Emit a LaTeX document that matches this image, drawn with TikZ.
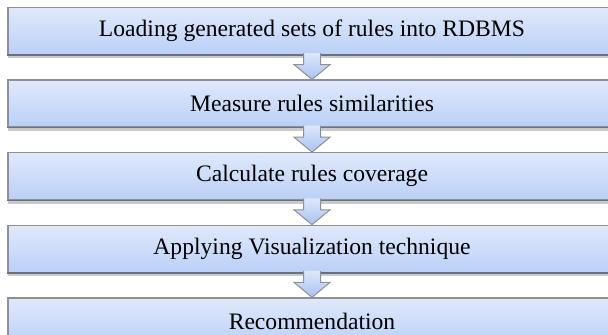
\documentclass[tikz,border=0pt]{standalone}
\usepackage{fontspec}
\setmainfont{Liberation Serif}
\usetikzlibrary{positioning,calc,shadows}
\definecolor{boxtop}{HTML}{E0E9FB}
\definecolor{boxbot}{HTML}{BAD0F8}
\definecolor{boxline}{HTML}{8F9093}
\definecolor{boxedge}{HTML}{6B717C}
\definecolor{arrtop}{HTML}{DDE7FB}
\definecolor{arrbot}{HTML}{A8C3F3}
\tikzset{stage/.style={rectangle,draw=boxline,line width=.6pt,top color=boxtop,bottom color=boxbot,minimum width=304pt,minimum height=23.5pt,inner sep=0pt,font=\fontsize{11.8}{14}\selectfont,drop shadow={shadow xshift=0pt,shadow yshift=-2pt,opacity=.35,fill=black!60}},
blockarr/.style={draw=boxline,line width=.5pt,top color=arrtop,bottom color=arrbot}}

\begin{document}
\begin{tikzpicture}
\useasboundingbox(0,0)rectangle(304pt,-167.5pt);
\node[stage](s1)at(156pt,-15.5pt){Loading generated sets of rules into RDBMS};
\node[stage,below=12.2pt of s1](s2){Measure rules similarities};
\node[stage,below=12.2pt of s2](s3){Calculate rules coverage};
\node[stage,below=12.2pt of s3](s4){Applying Visualization technique};
\node[stage,below=12.2pt of s4](s5){Recommendation};
\foreach\a/\b in{s1/s2,s2/s3,s3/s4,s4/s5}{
\draw[boxedge,line width=.7pt](\a.south west)--(\a.south east);
\draw[blockarr]($(\a.south)+(-4.25pt,1pt)$)--($(\a.south)+(-4.25pt,-4.75pt)$)--($(\a.south)+(-9pt,-4.75pt)$)--(\b.north)--($(\a.south)+(9pt,-4.75pt)$)--($(\a.south)+(4.25pt,-4.75pt)$)--($(\a.south)+(4.25pt,1pt)$);
}
\end{tikzpicture}
\end{document}
